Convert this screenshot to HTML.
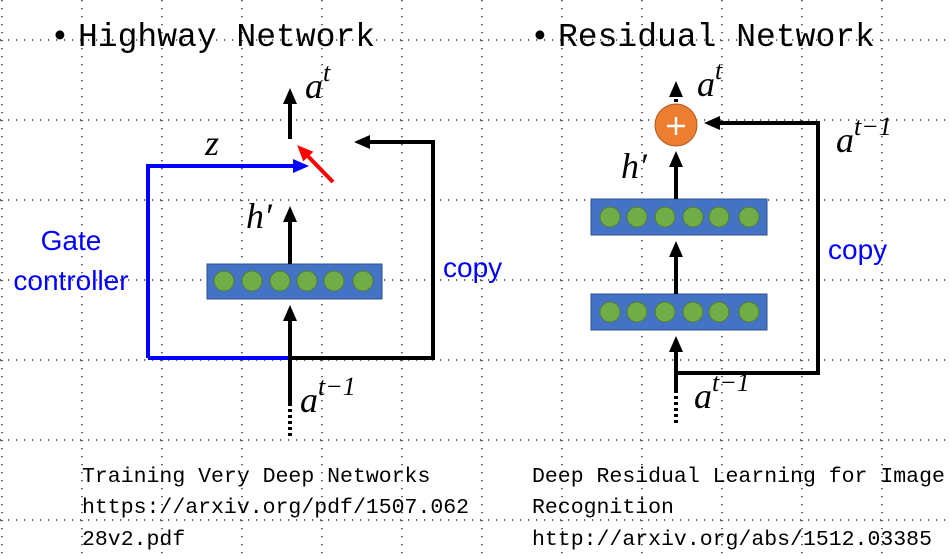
<!DOCTYPE html>
<html><head><meta charset="utf-8"><style>
body{margin:0;background:#fff;}
svg{display:block;}
.m{font-family:"Liberation Serif",serif;font-style:italic;font-size:36px;fill:#000;}
.mono{font-family:"Liberation Mono",monospace;font-size:21.5px;fill:#000;}
.ttl{font-family:"Liberation Mono",monospace;font-size:33px;fill:#000;}
.blue{font-family:"Liberation Sans",sans-serif;font-size:28px;fill:#0000ff;}
</style></head><body>
<svg width="950" height="559" viewBox="0 0 950 559">
<defs>
<marker id="ab" markerWidth="16" markerHeight="16" refX="12" refY="8" orient="auto" markerUnits="userSpaceOnUse"><path d="M0,1 L16,8 L0,15 z" fill="#0000ff"/></marker>
<marker id="ar" markerWidth="16" markerHeight="16" refX="12" refY="8" orient="auto" markerUnits="userSpaceOnUse"><path d="M0,1 L16,8 L0,15 z" fill="#ff0000"/></marker>
<marker id="a2" markerWidth="16" markerHeight="16" refX="12" refY="8" orient="auto" markerUnits="userSpaceOnUse"><path d="M0,1 L16,8 L0,15 z" fill="#000"/></marker>
</defs>
<g stroke="#000" stroke-width="1.2" stroke-dasharray="1.2,6.8">
<line x1="0" y1="40" x2="950" y2="40"/><line x1="0" y1="120" x2="950" y2="120"/><line x1="0" y1="200" x2="950" y2="200"/><line x1="0" y1="280" x2="950" y2="280"/><line x1="0" y1="360" x2="950" y2="360"/><line x1="0" y1="440" x2="950" y2="440"/><line x1="0" y1="520" x2="950" y2="520"/>
<line x1="2" y1="0" x2="2" y2="559"/><line x1="82" y1="0" x2="82" y2="559"/><line x1="162" y1="0" x2="162" y2="559"/><line x1="242" y1="0" x2="242" y2="559"/><line x1="322" y1="0" x2="322" y2="559"/><line x1="402" y1="0" x2="402" y2="559"/><line x1="482" y1="0" x2="482" y2="559"/><line x1="562" y1="0" x2="562" y2="559"/><line x1="642" y1="0" x2="642" y2="559"/><line x1="722" y1="0" x2="722" y2="559"/><line x1="802" y1="0" x2="802" y2="559"/><line x1="882" y1="0" x2="882" y2="559"/>
</g>
<text class="ttl" x="50" y="46">•<tspan x="78">Highway Network</tspan></text>
<text class="ttl" x="530" y="46">•<tspan x="558">Residual Network</tspan></text>

<!-- Highway -->
<g>
<rect x="207" y="264" width="175" height="35" fill="#4472c4" stroke="#2f528f"/>
<g fill="#70ad47" stroke="#507e32" stroke-width="1">
<circle cx="224" cy="281" r="10"/><circle cx="252" cy="281" r="10"/><circle cx="280" cy="281" r="10"/><circle cx="307" cy="281" r="10"/><circle cx="334" cy="281" r="10"/><circle cx="363" cy="281" r="10"/></g>
<polyline points="148,358 148,166 305,166" fill="none" stroke="#0000ff" stroke-width="4" marker-end="url(#ab)"/>
<line x1="290" y1="358" x2="148" y2="358" stroke="#0000ff" stroke-width="4"/>
<polyline points="290,358 433,358 433,142 358,142" fill="none" stroke="#000" stroke-width="4" marker-end="url(#a2)"/>
<line x1="290" y1="403" x2="290" y2="309" stroke="#000" stroke-width="4" marker-end="url(#a2)"/>
<line x1="290" y1="403" x2="290" y2="438" stroke="#000" stroke-width="4" stroke-dasharray="3,3"/>
<line x1="290" y1="264" x2="290" y2="210" stroke="#000" stroke-width="4" marker-end="url(#a2)"/>
<line x1="290" y1="139" x2="290" y2="92" stroke="#000" stroke-width="4" marker-end="url(#a2)"/>
<line x1="333" y1="182" x2="300" y2="148" stroke="#ff0000" stroke-width="4" marker-end="url(#ar)"/>
<text class="m" x="305" y="98">a<tspan dy="-17" font-size="26">t</tspan></text>
<text class="m" x="205" y="155">z</text>
<text class="m" x="246" y="228">h′</text>
<text class="m" x="300" y="412">a<tspan dy="-17" font-size="26">t−1</tspan></text>
<text class="blue" x="71" y="250" text-anchor="middle">Gate</text>
<text class="blue" x="71" y="290" text-anchor="middle">controller</text>
<text class="blue" x="443" y="277">copy</text>
</g>

<!-- Residual -->
<g>
<rect x="591" y="199" width="176" height="36" fill="#4472c4" stroke="#2f528f"/>
<rect x="591" y="294" width="176" height="36" fill="#4472c4" stroke="#2f528f"/>
<g fill="#70ad47" stroke="#507e32" stroke-width="1">
<circle cx="610" cy="217" r="10"/><circle cx="637" cy="217" r="10"/><circle cx="665" cy="217" r="10"/><circle cx="693" cy="217" r="10"/><circle cx="719" cy="217" r="10"/><circle cx="749" cy="217" r="10"/>
<circle cx="610" cy="312" r="10"/><circle cx="637" cy="312" r="10"/><circle cx="665" cy="312" r="10"/><circle cx="693" cy="312" r="10"/><circle cx="719" cy="312" r="10"/><circle cx="749" cy="312" r="10"/></g>
<polyline points="676,373 818,373 818,123 708,123" fill="none" stroke="#000" stroke-width="4" marker-end="url(#a2)"/>
<line x1="676" y1="390" x2="676" y2="340" stroke="#000" stroke-width="4" marker-end="url(#a2)"/>
<line x1="676" y1="390" x2="676" y2="423" stroke="#000" stroke-width="4" stroke-dasharray="3,3"/>
<line x1="676" y1="294" x2="676" y2="245" stroke="#000" stroke-width="4" marker-end="url(#a2)"/>
<line x1="676" y1="199" x2="676" y2="155" stroke="#000" stroke-width="4" marker-end="url(#a2)"/>
<line x1="676" y1="102" x2="676" y2="85" stroke="#000" stroke-width="4" stroke-dasharray="3,3" marker-end="url(#a2)"/>
<circle cx="676" cy="125" r="21" fill="#ed7d31" stroke="#ae5a21"/>
<line x1="667" y1="126" x2="685" y2="126" stroke="#fff" stroke-width="2.5"/><line x1="676" y1="117" x2="676" y2="135" stroke="#fff" stroke-width="2.5"/>
<text class="m" x="697" y="96">a<tspan dy="-17" font-size="26">t</tspan></text>
<text class="m" x="836" y="152">a<tspan dy="-17" font-size="26">t−1</tspan></text>
<text class="m" x="621" y="178">h′</text>
<text class="m" x="694" y="408">a<tspan dy="-17" font-size="26">t−1</tspan></text>
<text class="blue" x="828" y="259">copy</text>
</g>

<g>
<text class="mono" x="82" y="482">Training Very Deep Networks</text>
<text class="mono" x="82" y="513">https://arxiv.org/pdf/1507.062</text>
<text class="mono" x="82" y="545">28v2.pdf</text>
</g>
<g>
<text class="mono" x="532" y="482">Deep Residual Learning for Image</text>
<text class="mono" x="532" y="513">Recognition</text>
<text class="mono" x="532" y="545">http://arxiv.org/abs/1512.03385</text>
</g>
</svg>
</body></html>
